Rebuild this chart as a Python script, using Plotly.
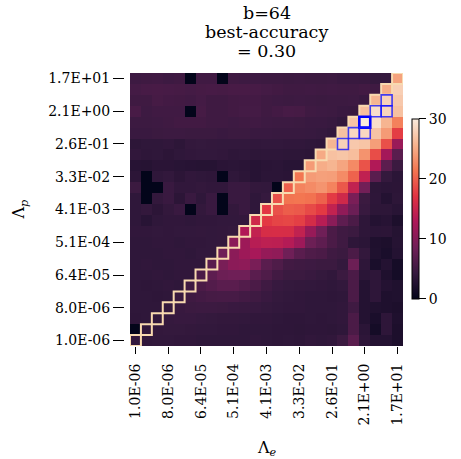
import plotly.graph_objects as go

# Lambda grid (factor 2 steps) : 25 values for Lambda_e (x) and Lambda_p (y)
n = 25
tick_idx = [0, 3, 6, 9, 12, 15, 18, 21, 24]
tick_labels = ["1.0E-06", "8.0E-06", "6.4E-05", "5.1E-04", "4.1E-03",
               "3.3E-02", "2.6E-01", "2.1E+00", "1.7E+01"]

# accuracy (%) rows listed from top (Lambda_p = 1.7E+01) to bottom (1.0E-06),
# columns from Lambda_e = 1.0E-06 to 1.7E+01
rows_top_to_bottom = [
    [4.9,5.0,5.1,4.9,5.0,0,5.1,5.1,0,5.0,4.9,4.9,4.8,4.8,4.7,4.8,4.7,4.7,4.8,4.6,4.6,4.5,4.2,4.3,24.5],
    [5.4,5.6,5.7,5.6,5.5,5.4,5.5,5.6,5.5,5.7,5.7,5.6,5.4,5.2,5.0,5.0,5.1,5.0,5.1,5.0,5.0,5.2,5.0,25.2,27.8],
    [5.0,5.0,5.5,5.3,5.2,5.1,5.4,5.0,5.0,5.2,5.3,5.3,5.0,4.9,4.8,4.9,4.8,4.7,4.8,4.8,4.9,4.6,25.8,28.0,27.3],
    [5.7,4.9,5.1,5.1,5.1,0,5.5,5.0,5.0,5.2,5.4,5.4,5.0,5.3,5.6,5.5,5.0,4.9,4.8,4.6,4.5,26.5,29.0,28.2,26.7],
    [4.8,4.8,4.9,5.0,5.2,5.2,5.2,5.0,5.0,4.9,5.0,5.1,4.9,4.8,4.8,4.7,4.6,4.6,4.4,4.0,26.9,30.0,29.0,25.8,22.2],
    [4.6,4.6,4.7,4.8,4.8,4.7,4.7,4.7,4.6,4.7,4.7,4.6,4.6,4.5,4.5,4.5,4.4,4.3,4.0,26.7,28.5,28.5,26.9,24.0,17.8],
    [3.6,3.8,3.8,3.9,3.6,4.1,4.2,4.1,4.0,4.0,4.0,3.9,4.0,4.0,3.9,3.9,3.8,3.7,25.9,28.0,27.3,27.0,24.2,19.0,11.5],
    [3.9,3.7,3.8,3.5,3.8,3.9,4.0,4.0,3.9,3.7,3.8,3.6,3.7,3.7,3.6,3.6,3.5,25.0,26.7,27.0,26.5,23.4,18.8,12.2,7.0],
    [3.1,3.0,3.3,3.3,3.2,3.1,3.0,3.0,3.3,3.4,3.3,3.1,3.3,3.4,3.2,3.2,24.0,25.2,25.8,24.7,22.8,19.2,13.2,7.1,4.7],
    [3.5,0,3.8,4.0,3.5,3.9,3.8,3.7,0,3.8,3.5,3.1,3.4,3.4,3.3,21.5,24.0,24.3,24.2,22.9,20.2,14.4,7.0,4.2,3.4],
    [4.7,0,0,4.6,3.9,3.9,4.1,3.9,3.9,4.6,4.6,4.1,4.0,0,20.0,22.3,22.9,23.5,22.3,19.5,14.5,8.7,3.6,3.4,3.5],
    [3.8,0,4.1,4.6,3.5,4.6,3.8,4.6,0,4.6,4.6,3.8,4.3,19.0,21.3,21.4,21.2,20.1,17.6,15.6,9.3,4.7,3.7,2.8,3.6],
    [3.8,4.1,3.5,4.1,4.6,0,4.1,4.6,0,4.1,4.6,3.8,17.3,19.0,19.8,19.6,18.6,17.5,14.6,10.8,8.2,4.5,3.6,3.6,3.2],
    [3.8,3.2,3.8,3.9,3.9,3.8,3.9,3.9,4.0,4.0,4.1,15.6,17.5,18.2,18.4,17.9,16.0,13.7,10.4,7.3,5.9,3.7,2.8,3.1,2.2],
    [3.9,3.9,4.0,3.9,4.0,4.0,4.1,4.0,4.1,4.2,13.2,14.6,16.2,16.3,16.2,14.5,11.3,8.5,5.9,5.0,4.7,3.7,3.4,3.5,2.9],
    [3.8,3.8,3.9,3.9,3.8,3.9,3.9,4.0,4.1,10.5,11.7,13.7,14.2,14.1,13.4,11.8,8.3,7.3,5.9,5.0,3.7,3.4,2.4,2.2,3.0],
    [3.8,3.8,3.8,3.9,3.9,3.8,4.0,4.0,8.5,10.5,11.7,12.5,11.2,10.8,8.5,7.0,6.2,5.9,5.0,4.7,5.9,4.1,2.5,2.0,2.8],
    [3.8,3.9,3.8,3.8,3.9,3.9,3.9,7.0,9.2,10.5,10.7,9.2,7.0,6.2,5.2,5.0,4.9,4.7,4.7,4.2,8.3,3.7,2.0,2.8,1.6],
    [3.8,3.8,3.9,3.8,3.9,3.9,5.9,7.3,8.3,8.5,8.5,7.0,6.2,5.2,4.7,4.7,4.5,4.2,3.9,4.7,5.9,3.4,3.7,2.4,1.5],
    [3.8,3.7,3.8,3.9,3.8,5.0,5.9,6.5,7.0,7.0,6.5,5.9,5.0,4.4,4.2,4.1,4.0,3.9,3.8,4.0,5.9,2.8,3.7,2.8,2.5],
    [3.8,3.8,3.7,3.8,4.5,5.0,5.3,5.5,5.6,5.6,5.3,5.0,4.6,4.2,4.0,3.9,3.8,3.8,3.7,3.8,5.9,2.8,3.7,2.4,2.5],
    [3.8,3.8,3.8,4.2,4.5,4.7,4.8,4.8,4.7,4.6,4.5,4.4,4.2,4.0,3.9,3.9,3.8,3.8,3.8,3.9,5.0,2.8,2.5,2.4,2.2],
    [3.7,3.8,4.0,4.3,4.4,4.4,4.3,4.2,4.1,4.1,4.0,3.9,3.9,3.8,3.7,3.7,3.8,3.7,3.8,3.9,5.9,2.8,2.0,3.7,2.4],
    [0,3.9,4.1,4.2,4.2,4.1,4.0,4.0,3.9,3.9,3.8,3.8,3.8,3.7,3.7,3.6,3.7,3.7,3.6,3.8,5.9,3.4,1.5,3.7,2.2],
    [4.2,3.9,4.0,4.0,3.9,3.9,3.8,3.8,3.8,3.8,3.8,3.9,3.8,3.7,3.8,3.7,3.9,3.8,3.9,4.7,7.0,3.7,2.8,2.8,2.2],
]

# best cells (Lambda_e index, Lambda_p index); the first is the overall best
best_e = [21, 19, 20, 21, 22, 23, 23]
best_p = [20, 18, 19, 19, 21, 21, 22]

z = rows_top_to_bottom[::-1]
idx = list(range(n))

rocket = [[0.0, "#03051a"], [1/7, "#35193e"], [2/7, "#701f57"], [3/7, "#ad1759"],
          [4/7, "#e13342"], [5/7, "#f37651"], [6/7, "#f6b48f"], [1.0, "#faebdd"]]

FONT = "DejaVu Serif"

fig = go.Figure(go.Heatmap(
    x=idx, y=idx, z=z, zmin=0, zmax=30, colorscale=rocket,
    colorbar=dict(
        x=1.033, xanchor="left", xpad=0, y=0.502, yanchor="middle", ypad=0,
        len=180, lenmode="pixels", thickness=7, thicknessmode="pixels",
        outlinewidth=1, outlinecolor="black",
        tickvals=[0, 10, 20, 30], ticks="outside", ticklen=7, tickwidth=1.3,
        tickcolor="black", tickfont=dict(family=FONT, size=14, color="black"),
    ),
))

shapes = []
for i in idx:
    shapes.append(dict(type="rect", xref="x", yref="y",
                       x0=i - 0.5, x1=i + 0.5, y0=i - 0.5, y1=i + 0.5,
                       line=dict(color="#f8dab0", width=2)))
for k, (e, p) in enumerate(zip(best_e, best_p)):
    shapes.append(dict(type="rect", xref="x", yref="y",
                       x0=e - 0.5, x1=e + 0.5, y0=p - 0.5, y1=p + 0.5,
                       line=dict(color="#0000ff" if k == 0 else "rgba(20,20,255,0.8)",
                                 width=2.6 if k == 0 else 1.6)))

axis_common = dict(showgrid=False, zeroline=False, showline=False, ticks="outside",
                   tickwidth=1.3, tickcolor="black",
                   tickvals=tick_idx, ticktext=tick_labels, automargin=False,
                   tickfont=dict(family=FONT, size=14, color="black"),
                   range=[-0.5, n - 0.5])

fig.update_layout(
    width=461, height=459,
    margin=dict(l=130, r=58, t=73, b=113),
    paper_bgcolor="white", plot_bgcolor="white",
    xaxis=dict(**axis_common, ticklen=7, tickangle=-90, ticklabelstandoff=4),
    yaxis=dict(**axis_common, ticklen=11, anchor="free", position=0, shift=-6,
               ticklabelstandoff=0),
    shapes=shapes,
    showlegend=False,
)

title_lines = ["b=64", "best-accuracy", "= 0.30"]
title_y = [1.2187, 1.1513, 1.0806]
for txt, yy in zip(title_lines, title_y):
    fig.add_annotation(text=txt, xref="paper", yref="paper", x=0.5, y=yy,
                       xanchor="center", yanchor="middle", showarrow=False,
                       font=dict(family=FONT, size=17.5, color="black"))

fig.add_annotation(text="Λ<sub><i>e</i></sub>", xref="paper", yref="paper",
                   x=0.5, y=-0.375, xanchor="center", yanchor="middle",
                   showarrow=False, font=dict(family=FONT, size=16, color="black"))
fig.add_annotation(text="Λ<sub><i>p</i></sub>", xref="paper", yref="paper",
                   x=-0.403, y=0.5, xanchor="center", yanchor="middle",
                   textangle=-90, showarrow=False,
                   font=dict(family=FONT, size=16, color="black"))

fig.write_html("out.html", config={"displayModeBar": False},
               post_script="document.body.style.margin='0';document.body.style.overflow='hidden';")
